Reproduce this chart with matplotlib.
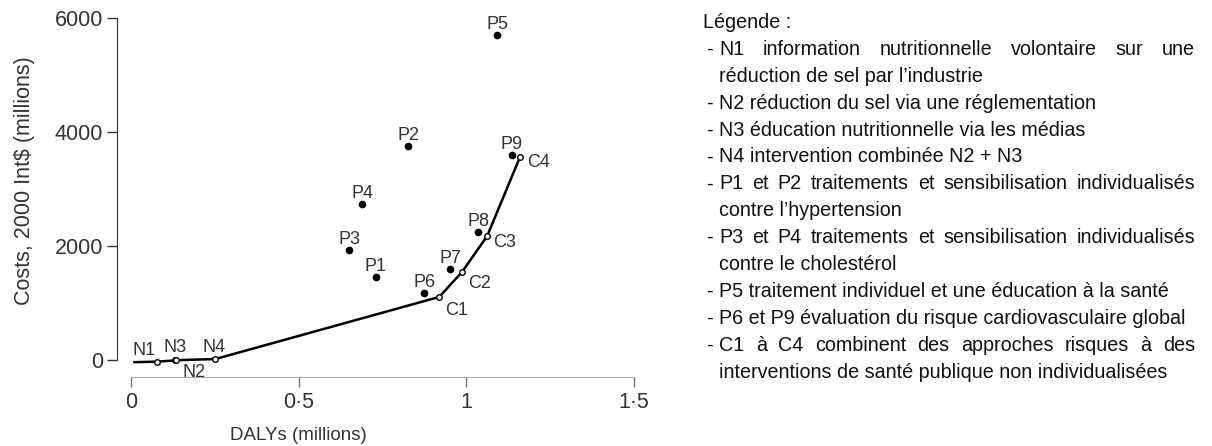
import matplotlib
matplotlib.use('Agg')
import matplotlib.pyplot as plt
from matplotlib import font_manager
import matplotlib.transforms as mtransforms

plt.rcParams['font.family'] = ['Liberation Sans', 'DejaVu Sans']

# cost-effectiveness frontier (DALYs averted in millions, costs in millions Int$)
front_x = [0.01, 0.078, 0.13, 0.135, 0.251, 0.919, 0.987, 1.062, 1.160]
front_y = [-40, -30, -10, -5, 15, 1105, 1544, 2175, 3561]
front_names = ['', 'N1', 'N2', 'N3', 'N4', 'C1', 'C2', 'C3', 'C4']

# personal interventions off the frontier
pts_names = ['P1', 'P2', 'P3', 'P4', 'P5', 'P6', 'P7', 'P8', 'P9']
pts_x = [0.73, 0.826, 0.65, 0.69, 1.092, 0.874, 0.951, 1.035, 1.136]
pts_y = [1456, 3754, 1930, 2737, 5702, 1175, 1596, 2246, 3596]

xticks = [0, 0.5, 1, 1.5]
xticklabels = ['0', '0\u00b75', '1', '1\u00b75']
yticks = [0, 2000, 4000, 6000]
yticklabels = ['0', '2000', '4000', '6000']

legend_title = 'Légende :'
# (text, is first line of an item, justified)
legend_lines = [
    ('N1 information nutritionnelle volontaire sur une', True, True),
    ('réduction de sel par l\u2019industrie', False, False),
    ('N2 réduction du sel via une réglementation', True, False),
    ('N3 éducation nutritionnelle via les médias', True, False),
    ('N4 intervention combinée N2 + N3', True, False),
    ('P1 et P2 traitements et sensibilisation individualisés', True, True),
    ('contre l\u2019hypertension', False, False),
    ('P3 et P4 traitements et sensibilisation individualisés', True, True),
    ('contre le cholestérol', False, False),
    ('P5 traitement individuel et une éducation à la santé', True, False),
    ('P6 et P9 évaluation du risque cardiovasculaire global', True, False),
    ('C1 à C4 combinent des approches risques à des', True, True),
    ('interventions de santé publique non individualisées', False, False),
]

W, H = 1212, 446
fig = plt.figure(figsize=(W / 100, H / 100), dpi=100)

xmin, xmax = -0.042, 1.55
ymin, ymax = -300, 6050
ax = fig.add_axes([117 / W, 1 - 377 / H, (650.8 - 117) / W, (377 - 15.2) / H])
ax.set_xlim(xmin, xmax)
ax.set_ylim(ymin, ymax)

grey = '#333333'
ax.plot(front_x, front_y, color='black', lw=1.8, zorder=2)
ax.plot(front_x[1:], front_y[1:], 'o', ms=4, mfc='white', mec='black', mew=1, zorder=3)
ax.plot(pts_x, pts_y, 'o', ms=4.5, color='black', zorder=3)

lab_fs = 13
# label offsets in pixels: dx, dy(up), ha, va
front_off = {
    'N1': (-2, 7, 'right', 'baseline'),
    'N2': (8, -17, 'left', 'baseline'),
    'N3': (-1, 8, 'center', 'baseline'),
    'N4': (-1, 7, 'center', 'baseline'),
    'C1': (6, -18, 'left', 'baseline'),
    'C2': (6, -16, 'left', 'baseline'),
    'C3': (6, -11, 'left', 'baseline'),
    'C4': (7, -10, 'left', 'baseline'),
}
for name, x, y in zip(front_names, front_x, front_y):
    if not name:
        continue
    dx, dy, ha, va = front_off[name]
    ax.annotate(name, (x, y), xytext=(dx * 0.72, dy * 0.72), textcoords='offset points',
                ha=ha, va=va, fontsize=lab_fs, color=grey)
for name, x, y in zip(pts_names, pts_x, pts_y):
    ax.annotate(name, (x, y), xytext=(0, 6 * 0.72), textcoords='offset points',
                ha='center', va='baseline', fontsize=lab_fs, color=grey)

ax.set_xticks(xticks)
ax.set_xticklabels(xticklabels)
ax.set_yticks(yticks)
ax.set_yticklabels(yticklabels)
ax.tick_params(axis='both', direction='out', length=7, width=1, labelsize=15.5,
               labelcolor=grey)
ax.tick_params(axis='x', color='#777777', pad=4)
ax.tick_params(axis='y', color=grey, pad=3)

for s in ['top', 'right']:
    ax.spines[s].set_visible(False)
ax.spines['left'].set_bounds(0, 6000)
ax.spines['left'].set_color(grey)
ax.spines['bottom'].set_bounds(0, 1.5)
ax.spines['bottom'].set_color('#aaaaaa')

ax.set_xlabel('DALYs (millions)', fontsize=13.5, color=grey)
ax.xaxis.set_label_coords(0.5, 1 - 427 / H,
                          transform=mtransforms.blended_transform_factory(ax.transData, fig.transFigure))
ax.set_ylabel('Costs, 2000 Int$ (millions)', fontsize=15.5, color=grey)
ax.yaxis.label.set_va('center')
ax.yaxis.set_label_coords(25 / W, 1 - 181 / H, transform=fig.transFigure)

# legend block to the right, justified like the original document
names = {f.name for f in font_manager.fontManager.ttflist}
leg_font = 'Liberation Sans Narrow' if 'Liberation Sans Narrow' in names else 'Liberation Sans'
fig.canvas.draw()
r = fig.canvas.get_renderer()


def text_w(s, fs):
    t = fig.text(0, 0, s, fontsize=fs, family=leg_font)
    w = t.get_window_extent(r).width
    t.remove()
    return w


leg_fs = 16 * 377 / text_w('N2 réduction du sel via une réglementation', 16)
x_title, x_dash, x_text, x_right = 703, 706, 719, 1195
base0, step = 28, 26.9

def put(s, px, py):
    fig.text(px / W, 1 - py / H, s, fontsize=leg_fs, family=leg_font,
             ha='left', va='baseline', color='#111111')


put(legend_title, x_title, base0)
for i, (line, first, justify) in enumerate(legend_lines, start=1):
    py = base0 + step * i
    if first:
        put('-', x_dash, py)
    if justify:
        words = line.split(' ')
        ws = [text_w(w, leg_fs) for w in words]
        gap = (x_right - x_text - sum(ws)) / (len(words) - 1)
        px = x_text
        for w, wd in zip(words, ws):
            put(w, px, py)
            px += wd + gap
    else:
        put(line, x_text, py)

fig.savefig('out.png', dpi=100)
